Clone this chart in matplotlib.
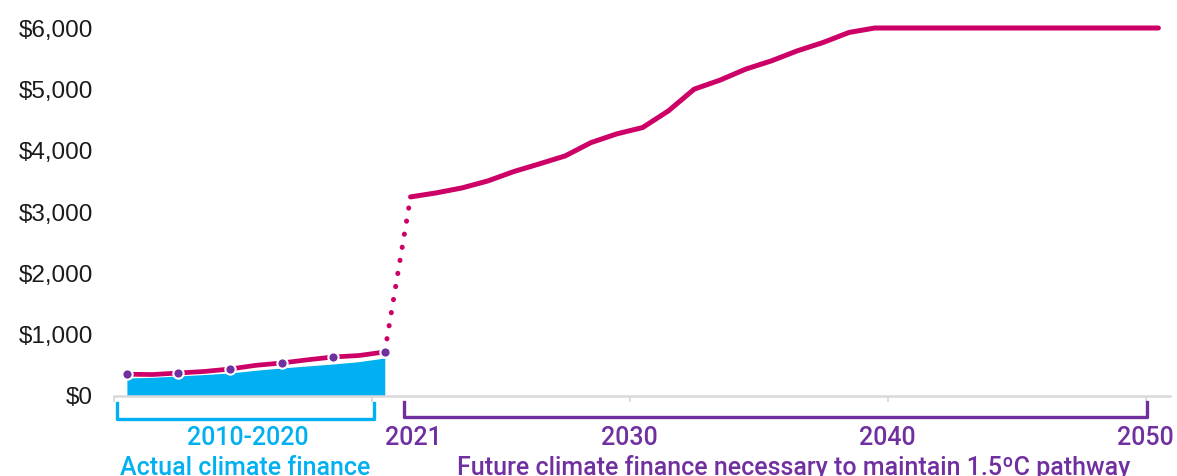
import matplotlib.pyplot as plt
from matplotlib.ticker import FuncFormatter

# Actual climate finance, 2010-2020
hist_years = [2010, 2011, 2012, 2013, 2014, 2015, 2016, 2017, 2018, 2019, 2020]
hist_total = [355, 350, 375, 400, 440, 500, 538, 590, 636, 660, 718]
hist_area = [294, 305, 326, 350, 375, 420, 457, 490, 522, 560, 620]
dot_years = [2010, 2012, 2014, 2016, 2018, 2020]
dot_values = [359, 375, 440, 538, 636, 718]

# Finance needed for a 1.5C pathway, 2021-2050
future_years = list(range(2021, 2051))
future_values = [3246, 3312, 3393, 3507, 3659, 3785, 3915, 4132, 4274, 4377,
                 4649, 5003, 5150, 5330, 5465, 5628, 5764, 5927, 6000, 6000,
                 6000, 6000, 6000, 6000, 6000, 6000, 6000, 6000, 6000, 6000]

year_labels = ['2021', '2030', '2040', '2050']
year_label_pos = [2021.1, 2029.5, 2039.5, 2049.5]

PINK = '#CC0066'
CYAN = '#00B0F0'
PURPLE = '#7030A0'

plt.rcParams['font.family'] = ['Roboto', 'DejaVu Sans']

fig = plt.figure(figsize=(11.77, 4.76), dpi=100)
ax = fig.add_axes([114 / 1177, 80 / 476, 1056 / 1177, 368 / 476])

# blue area for actual finance
ax.fill_between(hist_years, 0, hist_area, color=CYAN, lw=0, zorder=2)

# pink line for the historical total, dotted jump, then the pathway
ax.plot(hist_years, hist_total, color=PINK, lw=3.4, zorder=3)
ax.plot([hist_years[-1], future_years[0]], [hist_total[-1], future_values[0]],
        color=PINK, lw=3.6, linestyle=(0, (0.05, 2.6)), dash_capstyle='round', zorder=3)
ax.plot(future_years, future_values, color=PINK, lw=3.6, solid_capstyle='round',
        solid_joinstyle='round', zorder=3, clip_on=False)
ax.scatter(dot_years, dot_values, s=55, color=PURPLE, edgecolors='white',
           linewidths=1.5, zorder=4)

ax.set_xlim(2009.5, 2050.45)
ax.set_ylim(0, 6000)

ax.set_yticks(range(0, 6001, 1000))
ax.yaxis.set_major_formatter(FuncFormatter(lambda v, p: f'${v:,.0f}'))
ax.tick_params(axis='y', length=0, pad=15, labelsize=17.5, labelcolor='#1a1a1a')
for lab in ax.get_yticklabels():
    lab.set_family(['Liberation Sans', 'DejaVu Sans'])

ax.set_xticks([2009.5, 2019.5, 2029.5, 2039.5, 2049.5])
ax.set_xticklabels([])
ax.tick_params(axis='x', length=4.5, width=1.3, color='#d9d9d9')

for side in ['left', 'right', 'top']:
    ax.spines[side].set_visible(False)
ax.spines['bottom'].set_color('#d9d9d9')
ax.spines['bottom'].set_linewidth(1.8)

# brackets under the axis
ax.plot([2009.6, 2009.6, 2019.6, 2019.6], [-114, -370, -370, -114],
        color=CYAN, lw=2.4, clip_on=False)
ax.plot([2020.75, 2020.75, 2049.55, 2049.55], [-98, -340, -340, -98],
        color=PURPLE, lw=2.4, clip_on=False)

label_style = dict(fontsize=18, fontweight='medium', ha='center', clip_on=False)
ax.text(2014.7, -677, '2010-2020', color=CYAN, va='center', **label_style)
ax.text(2014.6, -1290, 'Actual climate finance', color=CYAN, va='baseline',
        **label_style)
for lab, pos in zip(year_labels, year_label_pos):
    ax.text(pos, -677, lab, color=PURPLE, va='center', **label_style)
ax.text(2035.85, -1290, 'Future climate finance necessary to maintain 1.5ºC pathway',
        color=PURPLE, va='baseline', **label_style)

fig.savefig('out.png', dpi=100)
